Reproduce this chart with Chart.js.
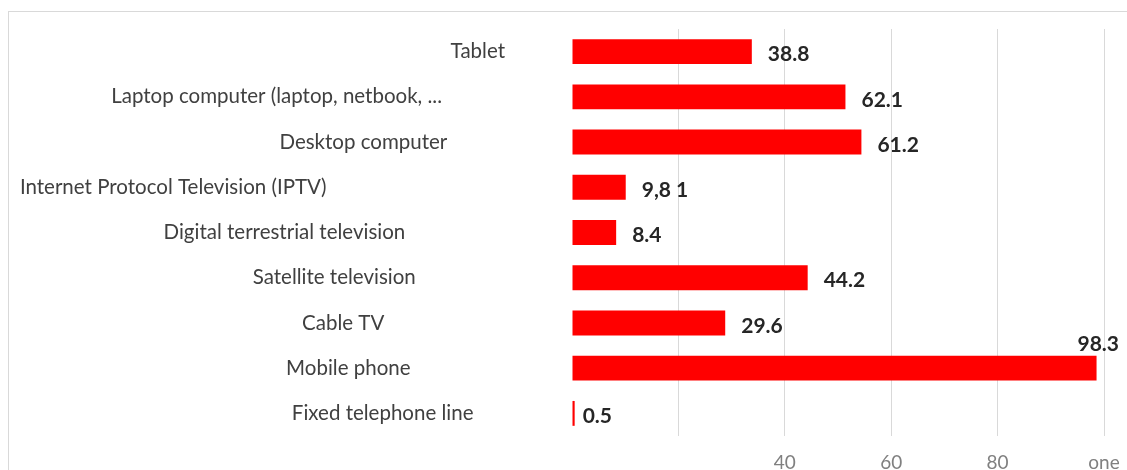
<!DOCTYPE html>
<html>
<head>
<meta charset="utf-8">
<script src="https://cdn.jsdelivr.net/npm/chart.js@4/dist/chart.umd.min.js"></script>
<style>
html, body { margin: 0; padding: 0; background: #fff; overflow: hidden; }
#frame { position: absolute; left: 8px; top: 11px; width: 1200px; height: 600px; border: 1px solid #d9d9d9; }
#wrap { position: absolute; left: 0; top: 0; width: 1127px; height: 470px; }
</style>
</head>
<body>
<div id="frame"></div>
<div id="wrap"><canvas id="chart"></canvas></div>
<script>
// categories, top to bottom
const categories = [
    'Tablet',
    'Laptop computer (laptop, netbook, ...',
    'Desktop computer',
    'Internet Protocol Television (IPTV)',
    'Digital terrestrial television',
    'Satellite television',
    'Cable TV',
    'Mobile phone',
    'Fixed telephone line'
];
// bar lengths as drawn in the picture
const shares = [33.8, 51.4, 54.4, 10.1, 8.3, 44.3, 28.8, 98.6, 0.5];
// value labels as printed next to the bars
const valueLabels = ['38.8', '62.1', '61.2', '9,8 1', '8.4', '44.2', '29.6', '98.3', '0.5'];
// x tick labels
const xTickLabels = { 40: '40', 60: '60', 80: '80', 100: 'one' };

// how far each category label sits left of the common right edge (px)
const labelShift = [0, 62, 60, 178, 98, 89, 123, 92, 33];

const FONT = 'Lato';
const CAT_SIZE = 20.5;
Chart.defaults.font.family = FONT;

const measureCtx = document.createElement('canvas').getContext('2d');
measureCtx.font = CAT_SIZE + 'px ' + FONT;
const spaceWidth = measureCtx.measureText(' ').width;

// draws the bold value next to every bar
const valueLabelPlugin = {
    id: 'valueLabels',
    afterDatasetsDraw(chart) {
        const ctx = chart.ctx;
        const meta = chart.getDatasetMeta(0);
        ctx.save();
        ctx.font = 'bold 21px ' + FONT;
        ctx.fillStyle = '#262626';
        meta.data.forEach((bar, i) => {
            const text = valueLabels[i];
            const gap = shares[i] < 2 ? 8 : 16;
            const w = ctx.measureText(text).width;
            if (bar.x + gap + w > chart.width) {
                // no room on the right: put it above the bar end
                ctx.textAlign = 'right';
                ctx.textBaseline = 'bottom';
                ctx.fillText(text, chart.width - 8, bar.y - bar.height / 2 - 1);
            } else {
                ctx.textAlign = 'left';
                ctx.textBaseline = 'middle';
                ctx.fillText(text, bar.x + gap, bar.y + 3);
            }
        });
        ctx.restore();
    }
};

new Chart(document.getElementById('chart'), {
    type: 'bar',
    data: {
        labels: categories,
        datasets: [{
            data: shares,
            backgroundColor: '#ff0000',
            borderWidth: 0,
            categoryPercentage: 1,
            barPercentage: 0.55
        }]
    },
    options: {
        indexAxis: 'y',
        responsive: true,
        maintainAspectRatio: false,
        animation: false,
        layout: { padding: { top: 29, right: 23, left: 0, bottom: 0 } },
        plugins: {
            legend: { display: false },
            tooltip: { enabled: false }
        },
        scales: {
            x: {
                min: 0,
                max: 100,
                afterFit: (scale) => {
                    scale.height = 34;
                    scale.paddingLeft = 0;
                    scale.paddingRight = 0;
                },
                border: { display: false },
                grid: {
                    drawTicks: false,
                    color: (c) => (c.tick && c.tick.value === 0) ? 'rgba(0,0,0,0)' : '#d9d9d9'
                },
                ticks: {
                    stepSize: 20,
                    padding: 15,
                    color: '#808080',
                    font: { size: 19 },
                    callback: (value) => xTickLabels[value] || ''
                }
            },
            y: {
                afterFit: (scale) => {
                    scale.width = 572;
                    scale.paddingTop = 0;
                    scale.paddingBottom = 0;
                },
                border: { display: false },
                grid: { display: false },
                ticks: {
                    padding: 59,
                    crossAlign: 'near',
                    color: '#404040',
                    font: { size: CAT_SIZE },
                    autoSkip: false,
                    callback: (value, index) => categories[index] + ' '.repeat(Math.round(labelShift[index] / spaceWidth))
                }
            }
        }
    },
    plugins: [valueLabelPlugin]
});
</script>
</body>
</html>
